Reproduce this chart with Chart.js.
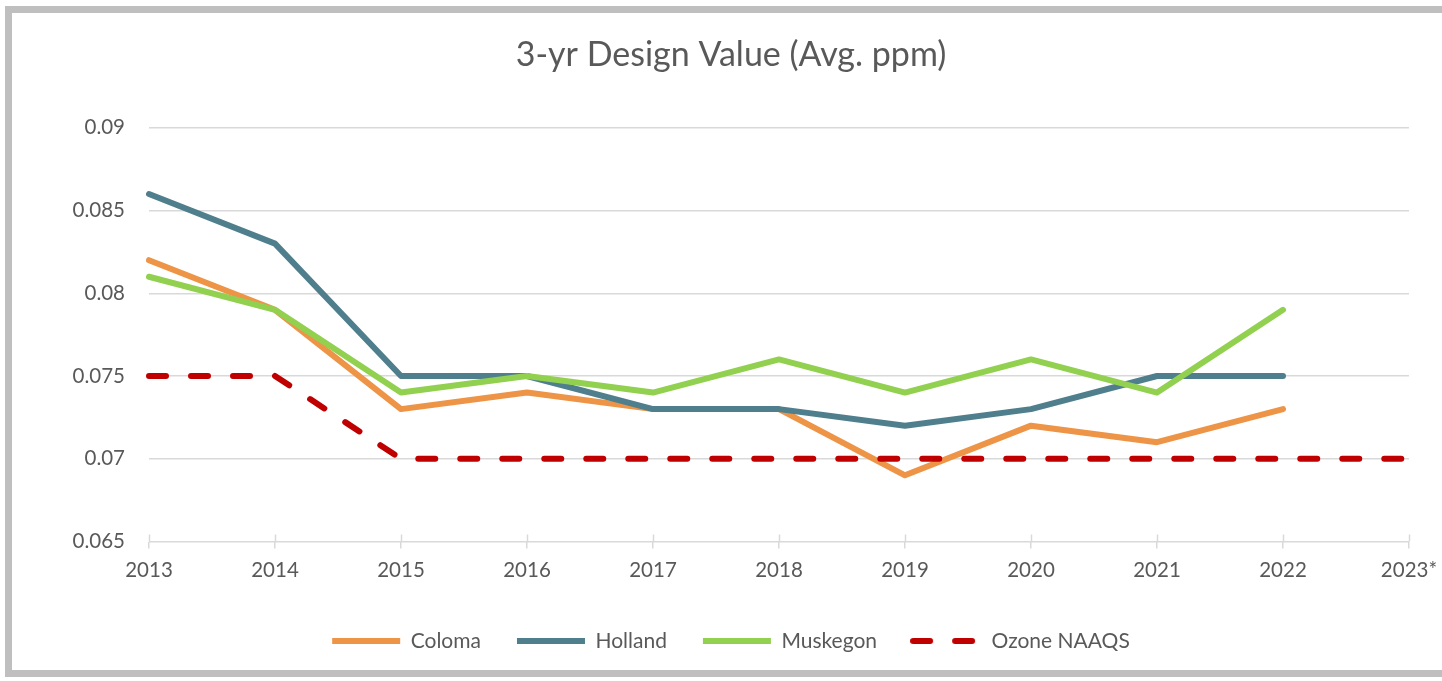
<!DOCTYPE html>
<html>
<head>
<meta charset="utf-8">
<script src="https://cdn.jsdelivr.net/npm/chart.js@4.4.1/dist/chart.umd.min.js"></script>
<style>
  html, body { margin: 0; padding: 0; background: #fff; overflow: hidden; }
  .frame { position: absolute; left: 5px; top: 6px; width: 1460px; height: 657px; border: 7px solid #bfbfbf; }
  .wrap { position: absolute; left: 0; top: 0; width: 1442px; height: 681px; }
</style>
</head>
<body>
<div class="frame"></div>
<div class="wrap"><canvas id="dvChart"></canvas></div>
<script>
const years = ['2013', '2014', '2015', '2016', '2017', '2018', '2019', '2020', '2021', '2022', '2023*'];
const coloma = [0.082, 0.079, 0.073, 0.074, 0.073, 0.073, 0.069, 0.072, 0.071, 0.073, null];
const holland = [0.086, 0.083, 0.075, 0.075, 0.073, 0.073, 0.072, 0.073, 0.075, 0.075, null];
const muskegon = [0.081, 0.079, 0.074, 0.075, 0.074, 0.076, 0.074, 0.076, 0.074, 0.079, null];
const ozoneNaaqs = [0.075, 0.075, 0.070, 0.070, 0.070, 0.070, 0.070, 0.070, 0.070, 0.070, 0.070];

const textColor = '#595959';
const gridColor = '#d9d9d9';
const fontFamily = 'Lato, "Open Sans", sans-serif';
const naaqsDash = [17, 25];

function lineSet(label, data, color, order, dash) {
  return {
    label: label,
    data: data,
    borderColor: color,
    backgroundColor: color,
    borderWidth: 6,
    borderCapStyle: 'round',
    borderJoinStyle: 'round',
    borderDash: dash || [],
    pointRadius: 0,
    pointHoverRadius: 0,
    tension: 0,
    fill: false,
    order: order
  };
}

// legend symbol for the dashed series (pointStyle 'line' ignores the dash)
function dashedSymbol(color) {
  const c = document.createElement('canvas');
  c.width = 74;
  c.height = 8;
  const g = c.getContext('2d');
  g.strokeStyle = color;
  g.lineWidth = 6;
  g.lineCap = 'round';
  g.setLineDash(naaqsDash);
  g.beginPath();
  g.moveTo(3, 4);
  g.lineTo(71, 4);
  g.stroke();
  return c;
}

// small tick marks that cross the x axis line
const crossTicks = {
  id: 'crossTicks',
  afterDatasetsDraw(chart) {
    const x = chart.scales.x;
    const ctx = chart.ctx;
    ctx.save();
    ctx.strokeStyle = gridColor;
    ctx.lineWidth = 1.5;
    x.ticks.forEach((t, i) => {
      const px = Math.round(x.getPixelForTick(i)) + 0.5;
      ctx.beginPath();
      ctx.moveTo(px, x.top - 7);
      ctx.lineTo(px, x.top);
      ctx.stroke();
    });
    ctx.restore();
  }
};

const ctx = document.getElementById('dvChart').getContext('2d');
new Chart(ctx, {
  type: 'line',
  data: {
    labels: years,
    datasets: [
      lineSet('Coloma', coloma, '#ED9447', 3),
      lineSet('Holland', holland, '#4F7F8C', 2),
      lineSet('Muskegon', muskegon, '#92D050', 1),
      lineSet('Ozone NAAQS', ozoneNaaqs, '#C00000', 0, naaqsDash)
    ]
  },
  plugins: [crossTicks],
  options: {
    responsive: true,
    maintainAspectRatio: false,
    animation: false,
    layout: { padding: { left: 53, right: 33, top: 0, bottom: 19.5 } },
    plugins: {
      title: {
        display: true,
        text: '3-yr Design Value (Avg. ppm)',
        color: textColor,
        font: { family: fontFamily, size: 34, weight: 'normal' },
        padding: { top: 35, bottom: 52 }
      },
      legend: {
        position: 'bottom',
        labels: {
          color: textColor,
          font: { family: fontFamily, size: 21 },
          usePointStyle: true,
          pointStyle: 'line',
          pointStyleWidth: 68,
          padding: 36,
          sort: (a, b) => a.datasetIndex - b.datasetIndex,
          generateLabels(chart) {
            const items = Chart.defaults.plugins.legend.labels.generateLabels(chart);
            items.forEach(it => {
              const ds = chart.data.datasets[it.datasetIndex];
              if (ds.borderDash && ds.borderDash.length) it.pointStyle = dashedSymbol(ds.borderColor);
              else it.pointStyle = 'line';
            });
            return items;
          }
        }
      },
      tooltip: { enabled: false }
    },
    scales: {
      x: {
        offset: false,
        afterFit(scale) {
          scale.height = 53;
          scale.paddingLeft = 0;
          scale.paddingRight = 0;
        },
        grid: {
          drawOnChartArea: false,
          drawTicks: true,
          tickLength: 7,
          color: gridColor,
          lineWidth: 1.5
        },
        border: { display: false },
        ticks: {
          color: textColor,
          font: { family: fontFamily, size: 20.5 },
          padding: 10,
          maxRotation: 0,
          autoSkip: false
        }
      },
      y: {
        min: 0.065,
        max: 0.09,
        afterFit(scale) { scale.width = 96; },
        grid: { color: gridColor, lineWidth: 1.5, drawTicks: false },
        border: { display: false },
        ticks: {
          stepSize: 0.005,
          color: textColor,
          font: { family: fontFamily, size: 20.5 },
          padding: 24,
          callback: function(value) {
            return parseFloat(value.toFixed(3)).toString();
          }
        }
      }
    }
  }
});
</script>
</body>
</html>
